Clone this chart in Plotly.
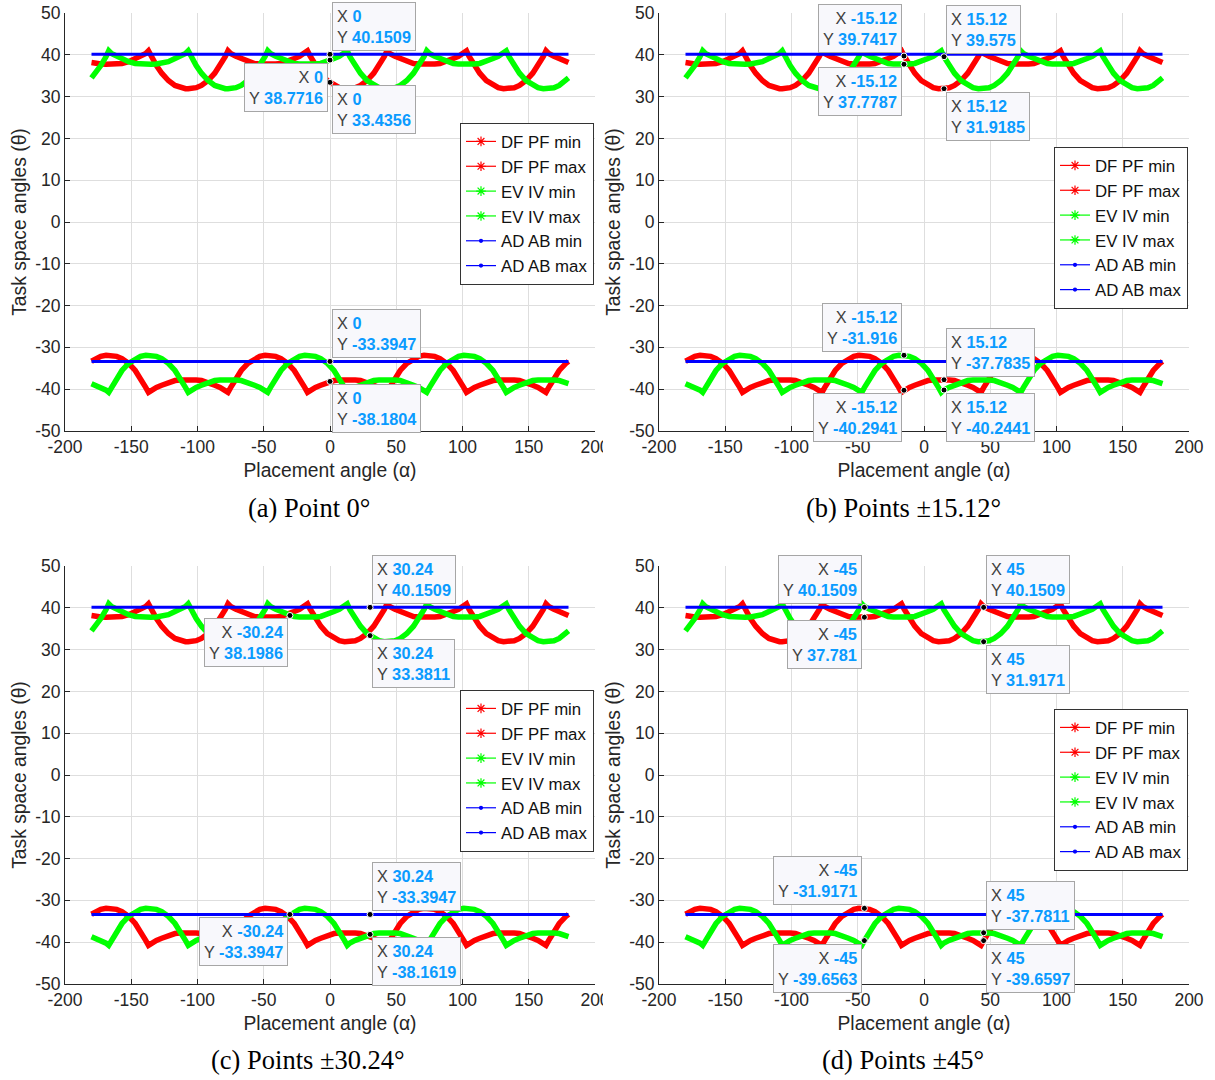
import plotly.graph_objects as go

# ---------------- data ----------------
angle = [-180, -177, -173, -169,
         -167, -165, -161, -157, -152, -147, -143, -139,
         -137, -135, -131, -127, -122, -117, -113, -109,
         -107, -105, -101, -97, -92, -87, -83, -79,
         -77, -75, -71, -67, -62, -57, -53, -49,
         -47, -45, -41, -37, -32, -27, -23, -19,
         -17, -15, -11, -7, -2, 3, 7, 11,
         13, 15, 19, 23, 28, 33, 37, 41,
         43, 45, 49, 53, 58, 63, 67, 71,
         73, 75, 79, 83, 88, 93, 97, 101,
         103, 105, 109, 113, 118, 123, 127, 131,
         133, 135, 139, 143, 148, 153, 157, 161,
         163, 165, 169, 173, 178, 180]

ev_iv_max = [34.50, 35.63, 37.47, 39.62,
             41.0, 40.35, 39.70, 39.15, 38.40, 37.97, 37.84, 37.78,
             37.78, 37.78, 37.84, 37.97, 38.40, 39.15, 39.70, 40.35,
             41.0, 39.62, 37.47, 35.63, 33.88, 32.71, 32.16, 31.92,
             31.90, 31.92, 32.16, 32.71, 33.88, 35.63, 37.47, 39.62,
             41.0, 40.35, 39.70, 39.15, 38.40, 37.97, 37.84, 37.78,
             37.78, 37.78, 37.84, 37.97, 38.40, 39.15, 39.70, 40.35,
             41.0, 39.58, 37.47, 35.63, 33.88, 32.71, 32.16, 31.92,
             31.90, 31.92, 32.16, 32.71, 33.88, 35.63, 37.47, 39.62,
             41.0, 40.35, 39.70, 39.15, 38.40, 37.97, 37.84, 37.78,
             37.78, 37.78, 37.84, 37.97, 38.40, 39.15, 39.70, 40.35,
             41.0, 39.62, 37.47, 35.63, 33.88, 32.71, 32.16, 31.92,
             31.90, 31.92, 32.16, 32.71, 33.88, 34.50]

df_pf_max = [38.18, 37.97, 37.84, 37.78,
             37.78, 37.78, 37.84, 37.97, 38.40, 39.15, 39.70, 40.35,
             41.0, 39.62, 37.47, 35.63, 33.88, 32.71, 32.16, 31.92,
             31.90, 31.92, 32.16, 32.71, 33.88, 35.63, 37.47, 39.62,
             41.0, 40.35, 39.70, 39.15, 38.40, 37.97, 37.84, 37.78,
             37.78, 37.78, 37.84, 37.97, 38.40, 39.15, 39.70, 40.35,
             41.0, 39.74, 37.47, 35.63, 33.88, 32.71, 32.16, 31.92,
             31.90, 31.92, 32.16, 32.71, 33.88, 35.63, 37.47, 39.62,
             41.0, 40.35, 39.70, 39.15, 38.40, 37.97, 37.84, 37.78,
             37.78, 37.78, 37.84, 37.97, 38.40, 39.15, 39.70, 40.35,
             41.0, 39.62, 37.47, 35.63, 33.88, 32.71, 32.16, 31.92,
             31.90, 31.92, 32.16, 32.71, 33.88, 35.63, 37.47, 39.62,
             41.0, 40.35, 39.70, 39.15, 38.40, 38.18]

ev_iv_min = [-38.72, -39.10, -39.60, -40.27,
             -40.8, -39.66, -37.35, -35.55, -33.86, -32.70, -32.17, -31.94,
             -31.92, -31.94, -32.17, -32.70, -33.86, -35.55, -37.35, -39.66,
             -40.8, -40.27, -39.60, -39.10, -38.38, -37.97, -37.84, -37.79,
             -37.78, -37.79, -37.84, -37.97, -38.38, -39.10, -39.60, -40.27,
             -40.8, -39.66, -37.35, -35.55, -33.86, -32.70, -32.17, -31.94,
             -31.92, -31.92, -32.17, -32.70, -33.86, -35.55, -37.35, -39.66,
             -40.8, -40.24, -39.60, -39.10, -38.38, -37.97, -37.84, -37.79,
             -37.78, -37.78, -37.84, -37.97, -38.38, -39.10, -39.60, -40.27,
             -40.8, -39.66, -37.35, -35.55, -33.86, -32.70, -32.17, -31.94,
             -31.92, -31.94, -32.17, -32.70, -33.86, -35.55, -37.35, -39.66,
             -40.8, -40.27, -39.60, -39.10, -38.38, -37.97, -37.84, -37.79,
             -37.78, -37.79, -37.84, -37.97, -38.38, -38.72]

df_pf_min = [-33.35, -32.70, -32.17, -31.94,
             -31.92, -31.94, -32.17, -32.70, -33.86, -35.55, -37.35, -39.66,
             -40.8, -40.27, -39.60, -39.10, -38.38, -37.97, -37.84, -37.79,
             -37.78, -37.79, -37.84, -37.97, -38.38, -39.10, -39.60, -40.27,
             -40.8, -39.66, -37.35, -35.55, -33.86, -32.70, -32.17, -31.94,
             -31.92, -31.92, -32.17, -32.70, -33.86, -35.55, -37.35, -39.66,
             -40.8, -40.29, -39.60, -39.10, -38.38, -37.97, -37.84, -37.79,
             -37.78, -37.78, -37.84, -37.97, -38.38, -39.10, -39.60, -40.27,
             -40.8, -39.66, -37.35, -35.55, -33.86, -32.70, -32.17, -31.94,
             -31.92, -31.94, -32.17, -32.70, -33.86, -35.55, -37.35, -39.66,
             -40.8, -40.27, -39.60, -39.10, -38.38, -37.97, -37.84, -37.79,
             -37.78, -37.79, -37.84, -37.97, -38.38, -39.10, -39.60, -40.27,
             -40.8, -39.66, -37.35, -35.55, -33.86, -33.35]

ad_ab_x = [-180, 180]
ad_ab_min = [-33.3947, -33.3947]
ad_ab_max = [40.1509, 40.1509]

x_ticks = [-200, -150, -100, -50, 0, 50, 100, 150, 200]
y_ticks = [-50, -40, -30, -20, -10, 0, 10, 20, 30, 40, 50]

series_names = ["DF PF min", "DF PF max", "EV IV min", "EV IV max", "AD AB min", "AD AB max"]
captions = ["(a) Point 0°", "(b) Points ±15.12°", "(c) Points ±30.24°", "(d) Points ±45°"]

# data tips (x, y) per panel
tips_x = [
    [0, 0, 0, 0, 0],
    [-15.12, -15.12, 15.12, 15.12, -15.12, -15.12, 15.12, 15.12],
    [30.24, -30.24, 30.24, 30.24, -30.24, 30.24],
    [-45, -45, 45, 45, -45, -45, 45, 45],
]
tips_y = [
    [40.1509, 38.7716, 33.4356, -33.3947, -38.1804],
    [39.7417, 37.7787, 39.575, 31.9185, -31.916, -40.2941, -37.7835, -40.2441],
    [40.1509, 38.1986, 33.3811, -33.3947, -33.3947, -38.1619],
    [40.1509, 37.781, 40.1509, 31.9171, -31.9171, -39.6563, -37.7811, -39.6597],
]
# which corner of the tip box sits on the point (b/t = bottom/top, l/r = left/right)
tips_corner = [
    ["bl", "tr", "tl", "bl", "tl"],
    ["br", "tr", "bl", "tl", "br", "tr", "bl", "tl"],
    ["bl", "tr", "tl", "bl", "tr", "tl"],
    ["br", "tr", "bl", "tl", "br", "tr", "bl", "tl"],
]

# ---------------- styling / layout ----------------
W, H = 1215, 1080
RED, GREEN, BLUE = "#FF0000", "#00FF00", "#0000FF"
AX = "#262626"
SANS = "Liberation Sans, Arial, sans-serif"
SERIF = "Liberation Serif, Times New Roman, serif"


def px(x):
    return x / W


def py(y):
    return 1 - y / H


XD = [[px(65), px(595)], [px(659), px(1189)], [px(65), px(595)], [px(659), px(1189)]]
YD = [[py(430.8), py(13.2)], [py(430.8), py(13.2)], [py(983.8), py(566.2)], [py(983.8), py(566.2)]]
LEG = [(px(460), py(123)), (px(1054), py(147)), (px(460), py(690)), (px(1054), py(709))]
CAP = [(px(309), py(508)), (px(903), py(508)), (px(308), py(1060)), (px(903), py(1060))]

fig = go.Figure()
layout = dict(width=W, height=H, margin=dict(l=0, r=0, t=0, b=0),
              paper_bgcolor="white", plot_bgcolor="white", showlegend=True,
              annotations=[], shapes=[])

curves = [(df_pf_min, RED), (df_pf_max, RED), (ev_iv_min, GREEN), (ev_iv_max, GREEN)]
legend_style = [(RED, "asterisk-open", 8), (RED, "asterisk-open", 8),
                (GREEN, "asterisk-open", 8), (GREEN, "asterisk-open", 8),
                (BLUE, "circle", 3), (BLUE, "circle", 3)]

for i in range(4):
    sfx = "" if i == 0 else str(i + 1)
    xa, ya = "x" + sfx, "y" + sfx
    lg = "legend" + sfx
    for ys, col in curves:
        fig.add_trace(go.Scatter(x=angle, y=ys, mode="lines", line=dict(color=col, width=5.5),
                                 xaxis=xa, yaxis=ya, showlegend=False, hoverinfo="skip"))
    for ys in (ad_ab_min, ad_ab_max):
        fig.add_trace(go.Scatter(x=ad_ab_x, y=ys, mode="lines", line=dict(color=BLUE, width=3),
                                 xaxis=xa, yaxis=ya, showlegend=False, hoverinfo="skip"))
    for name, (col, sym, sz) in zip(series_names, legend_style):
        fig.add_trace(go.Scatter(x=[None], y=[None], mode="lines+markers", name=name,
                                 line=dict(color=col, width=1.2),
                                 marker=dict(symbol=sym, size=sz, color=col, line=dict(color=col, width=1.2)),
                                 xaxis=xa, yaxis=ya, legend=lg))
    fig.add_trace(go.Scatter(x=tips_x[i], y=tips_y[i], mode="markers",
                             marker=dict(color="black", size=6, line=dict(color="white", width=1)),
                             xaxis=xa, yaxis=ya, showlegend=False, hoverinfo="skip"))

    common = dict(showline=True, linecolor=AX, linewidth=1, mirror=False,
                  ticks="inside", ticklen=5, tickcolor=AX, tickwidth=1,
                  showgrid=True, gridcolor="#DEDEDE", gridwidth=1, zeroline=False,
                  tickfont=dict(family=SANS, size=17.5, color=AX), automargin=False)
    layout["xaxis" + sfx] = dict(common, domain=XD[i], anchor=ya, range=[-200, 200],
                                 tickmode="array", tickvals=x_ticks, ticktext=[str(v) for v in x_ticks],
                                 title=dict(text="Placement angle (α)", font=dict(family=SANS, size=19.3, color=AX),
                                            standoff=7))
    layout["yaxis" + sfx] = dict(common, domain=YD[i], anchor=xa, range=[-50, 50],
                                 tickmode="array", tickvals=y_ticks, ticktext=[str(v) for v in y_ticks],
                                 title=dict(text="Task space angles (θ)", font=dict(family=SANS, size=19.3, color=AX),
                                            standoff=3))
    layout[lg] = dict(x=LEG[i][0], y=LEG[i][1], xanchor="left", yanchor="top",
                      bgcolor="white", bordercolor="#333333", borderwidth=1,
                      font=dict(family=SANS, size=16.8, color="#111111"),
                      itemwidth=30, tracegroupgap=0)

    for tx, ty, cn in zip(tips_x[i], tips_y[i], tips_corner[i]):
        left = cn[1] == "l"
        bottom = cn[0] == "b"
        txt = ("<span style='color:#404040'>X</span> <b><span style='color:#0A9BFF'>%s</span></b><br>"
               "<span style='color:#404040'>Y</span> <b><span style='color:#0A9BFF'>%s</span></b>"
               % (f"{tx:g}", f"{ty:g}"))
        layout["annotations"].append(dict(
            x=tx, y=ty, xref=xa, yref=ya, text=txt, showarrow=False,
            xanchor="left" if left else "right", yanchor="bottom" if bottom else "top",
            xshift=2 if left else -2, yshift=3 if bottom else -3,
            align="left" if left else "right",
            bgcolor="#F8F8FC", bordercolor="#A6A6A6", borderwidth=1, borderpad=4,
            font=dict(family=SANS, size=16.3)))

    layout["annotations"].append(dict(
        x=CAP[i][0], y=CAP[i][1], xref="paper", yref="paper", text=captions[i],
        showarrow=False, xanchor="center", yanchor="middle",
        font=dict(family=SERIF, size=26.5, color="black")))

# clip the right-most tick label of the left column, as in the reference
for ytop in (437, 990):
    layout["shapes"].append(dict(type="rect", xref="paper", yref="paper",
                                 x0=px(603), x1=px(620), y0=py(ytop + 24), y1=py(ytop),
                                 fillcolor="white", line=dict(width=0), layer="above"))

fig.update_layout(**layout)
fig.write_html("out.html",
               config={"displayModeBar": False, "staticPlot": True},
               post_script="document.body.style.margin='0px';document.body.style.overflow='hidden';")
